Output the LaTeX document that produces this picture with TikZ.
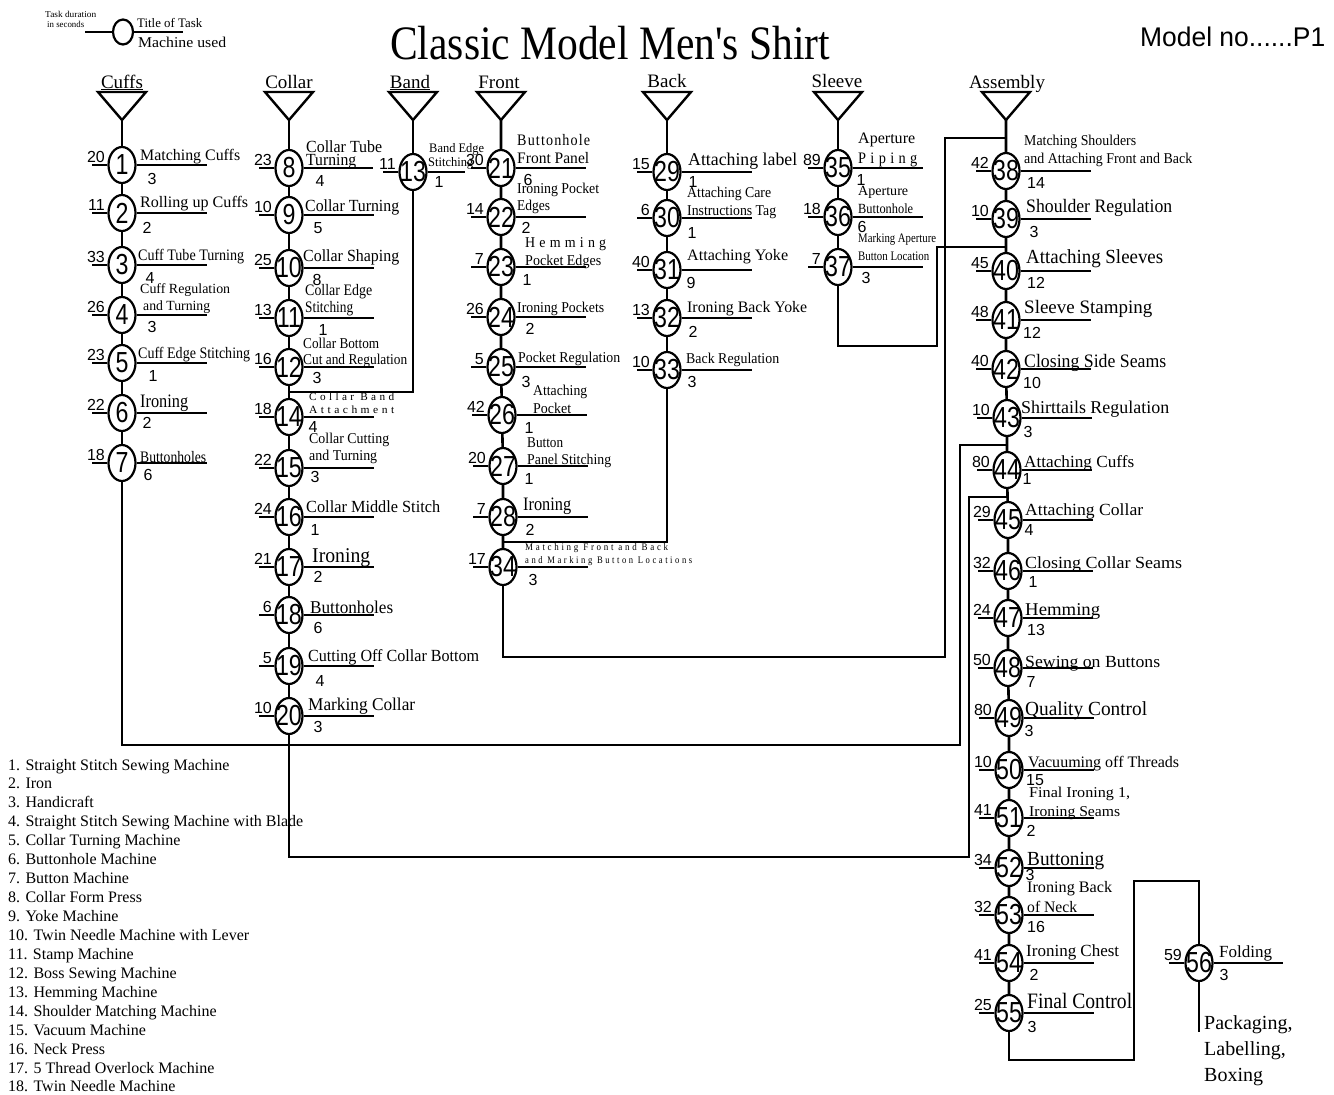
\documentclass[tikz,border=0pt]{standalone}
\usepackage{fontspec}
\setmainfont{Liberation Serif}
\newfontfamily\plainser{Liberation Serif}
\newfontfamily\sansf{Liberation Sans}
\usepackage{graphicx}
\usetikzlibrary{shapes.geometric}
\newcommand\fsz[1]{\fontsize{#1pt}{#1pt}\selectfont}
\newcommand\nn[1]{\scalebox{0.8}[1]{\sansf\fsz{29}#1}}
\newcommand\ls[1]{\addfontfeature{LetterSpace=#1}}
% task: [right length] num x y duration machine mdx mdy
\newcommand\tk[8][85]{%
  \node[task,label={[nlab]center:\nn{#2}}] (n#2) at (#3,#4) {};
  \draw[tl] (n#2.west) -- ++(-15,0);
  \draw[tl] (n#2.east) -- ++(#1-14.5,0);
  \node[dur] (d#2) at (#3-17,#4-3) {#5};
  \node[mach] (m#2) at (#3+#7,#4+#8) {#6};
}
% title text: name x y size width text
\newcommand\tx[6]{\node[ttl] (#1) at (#2,#3) {\resizebox{#5pt}{\height}{\fsz{#4}#6}};}
\newcommand\tri[2]{%
  \draw[tri] (#2-24,92) -- (#2+24,92) -- (#2,120) -- cycle;
  \coordinate (#1) at (#2,120);
}
\begin{document}
\begin{tikzpicture}[x=1pt,y=-1pt,
  task/.style={ellipse,draw,line width=2.2pt,fill=white,minimum width=27pt,minimum height=36pt,inner sep=0pt},
  nlab/.style={inner sep=0pt},
  tl/.style={line width=2.4pt},
  conn/.style={line width=2.6pt},
  tri/.style={line width=2.4pt,line join=miter},
  dur/.style={anchor=base east,inner sep=0pt,font=\sansf\fsz{16}},
  mach/.style={anchor=center,inner sep=0pt,font=\sansf\fsz{16}},
  ttl/.style={anchor=base west,inner sep=0pt},
  hdr/.style={anchor=base,inner sep=0pt,font=\fsz{19}},
  leg/.style={anchor=base west,inner sep=0pt,font=\fsz{16}}]
\fill[white] (0,0) rectangle (1334,1095);
\useasboundingbox (0,0) rectangle (1334,1095);

% ---------- top legend ----------
\tx{lgA}{45}{17}{9}{51}{Task duration}
\tx{lgB}{47}{27}{9}{37}{in seconds}
\node[task,minimum width=20pt,minimum height=25pt] (lgE) at (123,32) {};
\coordinate (lgL) at (85,32);
\coordinate (lgR) at (183,32);
\draw[tl] (lgE) -- (lgL);
\draw[tl] (lgE) -- (lgR);
\tx{lgC}{137}{27}{13}{65}{Title of  Task}
\tx{lgD}{138}{47}{15}{88}{Machine used}

% ---------- title ----------
\node[ttl] (title) at (390,59) {\resizebox{440pt}{\height}{\plainser\fsz{48}Classic Model Men's Shirt}};
\node[ttl] (model) at (1140,46) {\resizebox{185pt}{\height}{\sansf\fsz{27}Model no......P1}};

% ---------- headers and triangles ----------
\node[hdr] (hCuffs) at (122,88) {\underline{Cuffs}};
\node[hdr] (hCollar) at (289,88) {Collar};
\node[hdr] (hBand) at (410,88) {\underline{Band}};
\node[hdr] (hFront) at (499,88) {Front};
\node[hdr] (hBack) at (667,87) {Back};
\node[hdr] (hSleeve) at (837,87) {Sleeve};
\node[hdr] (hAsm) at (1007,88) {Assembly};
\tri{tCuffs}{122}
\tri{tCollar}{289}
\tri{tBand}{413}
\tri{tFront}{501}
\tri{tBack}{667}
\tri{tSleeve}{838}
\tri{tAsm}{1006}

% ---------- tasks ----------
\tk{1}{122}{165}{20}{3}{30}{14}
\tk{2}{122}{213}{11}{2}{25}{15}
\tk{3}{122}{265}{33}{4}{28}{13}
\tk{4}{122}{315}{26}{3}{30}{12}
\tk{5}{122}{363}{23}{1}{31}{13}
\tk{6}{122}{413}{22}{2}{25}{10}
\tk{7}{122}{463}{18}{6}{26}{12}
\tk[84]{8}{289}{168}{23}{4}{31}{13}
\tk{9}{289}{215}{10}{5}{29}{13}
\tk{10}{289}{268}{25}{8}{28}{12}
\tk{11}{289}{318}{13}{1}{34}{12}
\tk{12}{289}{367}{16}{3}{28}{11}
\tk{14}{289}{417}{18}{4}{24}{10}
\tk{15}{289}{468}{22}{3}{26}{9}
\tk{16}{289}{517}{24}{1}{26}{13}
\tk{17}{289}{567}{21}{2}{29}{10}
\tk{18}{289}{615}{6}{6}{29}{13}
\tk{19}{289}{666}{5}{4}{31}{15}
\tk{20}{289}{716}{10}{3}{29}{11}
\tk[52]{13}{413}{172}{11}{1}{26}{10}
\tk{21}{501}{168}{30}{6}{27}{12}
\tk{22}{501}{217}{14}{2}{25}{11}
\tk{23}{501}{267}{7}{1}{26}{13}
\tk{24}{501}{317}{26}{2}{29}{12}
\tk{25}{501}{367}{5}{3}{25}{15}
\tk{26}{502}{415}{42}{1}{27}{13}
\tk{27}{503}{466}{20}{1}{26}{13}
\tk{28}{503}{517}{7}{2}{27}{13}
\tk{34}{503}{567}{17}{3}{30}{13}
\tk{29}{667}{172}{15}{1}{26}{10}
\tk{30}{667}{218}{6}{1}{25}{15}
\tk{31}{667}{270}{40}{9}{24}{13}
\tk{32}{667}{318}{13}{2}{26}{14}
\tk{33}{667}{370}{10}{3}{25}{12}
\tk{35}{838}{168}{89}{1}{23}{12}
\tk{36}{838}{217}{18}{6}{24}{10}
\tk{37}{838}{267}{7}{3}{28}{11}
\tk{38}{1006}{171}{42}{14}{30}{12}
\tk{39}{1006}{219}{10}{3}{28}{13}
\tk{40}{1006}{271}{45}{12}{30}{12}
\tk{41}{1006}{320}{48}{12}{26}{13}
\tk{42}{1006}{369}{40}{10}{26}{14}
\tk{43}{1007}{418}{10}{3}{21}{14}
\tk{44}{1007}{470}{80}{1}{20}{9}
\tk{45}{1008}{520}{29}{4}{21}{10}
\tk{46}{1008}{571}{32}{1}{25}{11}
\tk{47}{1008}{618}{24}{13}{28}{12}
\tk{48}{1008}{668}{50}{7}{23}{14}
\tk{49}{1009}{718}{80}{3}{20}{13}
\tk{50}{1009}{770}{10}{15}{26}{10}
\tk{51}{1009}{818}{41}{2}{22}{13}
\tk{52}{1009}{868}{34}{3}{21}{7}
\tk{53}{1009}{915}{32}{16}{27}{12}
\tk{54}{1009}{963}{41}{2}{25}{12}
\tk{55}{1009}{1013}{25}{3}{23}{14}
\tk[84]{56}{1199}{963}{59}{3}{25}{12}

% ---------- titles ----------
\tx{t1}{140}{160}{16}{100}{Matching Cuffs}
\tx{t2}{140}{207}{16}{108}{Rolling up Cuffs}
\tx{t3}{138}{260}{16}{106}{Cuff Tube Turning}
\tx{t4a}{140}{293}{14}{90}{Cuff Regulation}
\tx{t4b}{143}{310}{14}{67}{and Turning}
\tx{t5}{138}{358}{16}{112}{Cuff Edge Stitching}
\tx{t6}{140}{407}{19}{48}{Ironing}
\tx{t7}{140}{462}{16}{66}{Buttonholes}
\tx{t8a}{306}{152}{17}{76}{Collar Tube}
\tx{t8b}{306}{165}{17}{50}{Turning}
\tx{t9}{305}{211}{17}{94}{Collar Turning}
\tx{t10}{303}{261}{17}{96}{Collar Shaping}
\tx{t11a}{305}{295}{16}{67}{Collar Edge}
\tx{t11b}{305}{312}{16}{48}{Stitching}
\tx{t12a}{303}{348}{15}{76}{Collar Bottom}
\tx{t12b}{303}{364}{15}{104}{Cut and Regulation}
\tx{t14a}{309}{400}{11}{85}{\ls{30}Collar Band}
\tx{t14b}{309}{413}{11}{85}{\ls{30}Attachment}
\tx{t15a}{309}{443}{15}{80}{Collar Cutting}
\tx{t15b}{309}{460}{15}{68}{and Turning}
\tx{t16}{306}{512}{17}{134}{Collar Middle Stitch}
\tx{t17}{312}{562}{21}{58}{Ironing}
\tx{t18}{310}{613}{18}{83}{Buttonholes}
\tx{t19}{308}{661}{17}{171}{Cutting Off Collar Bottom}
\tx{t20}{308}{710}{18}{107}{Marking Collar}
\tx{t13a}{429}{152}{13}{55}{Band Edge}
\tx{t13b}{428}{166}{13}{45}{Stitching}
\tx{t21a}{517}{145}{16}{73}{\ls{8}Buttonhole}
\tx{t21b}{517}{163}{16}{72}{Front Panel}
\tx{t22a}{517}{193}{15}{82}{Ironing Pocket}
\tx{t22b}{517}{210}{15}{33}{Edges}
\tx{t23a}{525}{247}{15}{81}{\ls{30}Hemming}
\tx{t23b}{525}{265}{15}{76}{Pocket Edges}
\tx{t24}{517}{312}{15}{87}{Ironing Pockets}
\tx{t25}{518}{362}{15}{102}{Pocket Regulation}
\tx{t26a}{533}{395}{15}{54}{Attaching}
\tx{t26b}{533}{413}{15}{38}{Pocket}
\tx{t27a}{527}{447}{15}{36}{Button}
\tx{t27b}{527}{464}{15}{84}{Panel Stitching}
\tx{t28}{523}{510}{19}{48}{Ironing}
\tx{t34a}{525}{550}{10}{143}{\ls{30}Matching Front and Back}
\tx{t34b}{525}{563}{10}{167}{\ls{30}and Marking Button Locations}
\tx{t29}{688}{165}{18}{109}{Attaching label}
\tx{t30a}{687}{197}{15}{84}{Attaching Care}
\tx{t30b}{687}{215}{15}{89}{Instructions Tag}
\tx{t31}{687}{260}{16}{101}{Attaching Yoke}
\tx{t32}{687}{312}{16}{120}{Ironing Back Yoke}
\tx{t33}{686}{363}{15}{93}{Back Regulation}
\tx{t35a}{858}{143}{16}{57}{Aperture}
\tx{t35b}{858}{163}{16}{59}{\ls{30}Piping}
\tx{t36a}{858}{195}{14}{50}{Aperture}
\tx{t36b}{858}{213}{14}{55}{Buttonhole}
\tx{t37a}{858}{242}{13}{78}{Marking Aperture}
\tx{t37b}{858}{260}{13}{71}{Button Location}
\tx{t38a}{1024}{145}{15}{112}{Matching Shoulders}
\tx{t38b}{1024}{163}{15}{168}{and Attaching Front and Back}
\tx{t39}{1026}{212}{19}{146}{Shoulder Regulation}
\tx{t40}{1026}{263}{20}{137}{Attaching Sleeves}
\tx{t41}{1024}{313}{19}{128}{Sleeve Stamping}
\tx{t42}{1024}{367}{19}{142}{Closing Side Seams}
\tx{t43}{1021}{413}{18}{148}{Shirttails Regulation}
\tx{t44}{1024}{467}{17}{110}{Attaching Cuffs}
\tx{t45}{1025}{515}{17}{118}{Attaching Collar}
\tx{t46}{1025}{568}{17}{157}{Closing Collar Seams}
\tx{t47}{1025}{615}{18}{75}{Hemming}
\tx{t48}{1025}{667}{17}{135}{Sewing on Buttons}
\tx{t49}{1025}{715}{20}{122}{Quality Control}
\tx{t50}{1028}{767}{16}{151}{Vacuuming off Threads}
\tx{t51a}{1029}{797}{15}{101}{Final Ironing 1,}
\tx{t51b}{1029}{816}{15}{91}{Ironing Seams}
\tx{t52}{1027}{865}{20}{77}{Buttoning}
\tx{t53a}{1027}{892}{16}{85}{Ironing Back}
\tx{t53b}{1027}{912}{16}{50}{of Neck}
\tx{t54}{1026}{956}{17}{93}{Ironing Chest}
\tx{t55}{1027}{1008}{22}{105}{Final Control}
\tx{t56}{1219}{957}{17}{53}{Folding}
\node[ttl,font=\fsz{20}] (pk1) at (1204,1029) {Packaging,};
\node[ttl,font=\fsz{20}] (pk2) at (1204,1055) {Labelling,};
\node[ttl,font=\fsz{20}] (pk3) at (1204,1081) {Boxing};

% ---------- chains ----------
\draw[conn] (tCuffs) -- (n1) -- (n2) -- (n3) -- (n4) -- (n5) -- (n6) -- (n7);
\draw[conn] (tCollar) -- (n8) -- (n9) -- (n10) -- (n11) -- (n12) -- (n14) -- (n15) -- (n16) -- (n17) -- (n18) -- (n19) -- (n20);
\draw[conn] (tBand) -- (n13);
\draw[conn] (tFront) -- (n21) -- (n22) -- (n23) -- (n24) -- (n25) -- (n26) -- (n27) -- (n28) -- (n34);
\draw[conn] (tBack) -- (n29) -- (n30) -- (n31) -- (n32) -- (n33);
\draw[conn] (tSleeve) -- (n35) -- (n36) -- (n37);
\draw[conn] (tAsm) -- (n38) -- (n39) -- (n40) -- (n41) -- (n42) -- (n43) -- (n44) -- (n45) -- (n46) -- (n47) -- (n48) -- (n49) -- (n50) -- (n51) -- (n52) -- (n53) -- (n54) -- (n55);

% ---------- joins ----------
\coordinate (jBand) at (289,392);
\coordinate (jBack) at (503,542);
\coordinate (jFront) at (1006,138);
\coordinate (jSleeve) at (1006,247);
\coordinate (jCuffs) at (1007,445);
\coordinate (jCollar) at (1008,497);
\coordinate (pkEnd) at (1199,1032);
\draw[conn] (n13) |- (jBand);
\draw[conn] (n33) |- (jBack);
\draw[conn] (n34) -- (503,657) -| (945,138) -- (jFront);
\draw[conn] (n37) -- (838,346) -| (937,247) -- (jSleeve);
\draw[conn] (n7) -- (122,745) -| (960,445) -- (jCuffs);
\draw[conn] (n20) -- (289,857) -| (969,497) -- (jCollar);
\draw[conn] (n55) -- (1009,1060) -| (1134,881) -| (n56);
\draw[conn] (n56) -- (pkEnd);

% ---------- machine legend ----------
\foreach \t [count=\i] in {1. Straight Stitch Sewing Machine,%
2. Iron,%
3. Handicraft,%
4. Straight Stitch Sewing Machine with Blade,%
5. Collar Turning Machine,%
6. Buttonhole Machine,%
7. Button Machine,%
8. Collar Form Press,%
9. Yoke Machine,%
10. Twin Needle Machine with Lever,%
11. Stamp Machine,%
12. Boss Sewing Machine,%
13. Hemming Machine,%
14. Shoulder Matching Machine,%
15. Vacuum Machine,%
16. Neck Press,%
17. 5 Thread Overlock Machine,%
18. Twin Needle Machine}
  {\node[leg] (leg\i) at (8,{751.06+18.94*\i}) {\t};}
\end{tikzpicture}
\end{document}
